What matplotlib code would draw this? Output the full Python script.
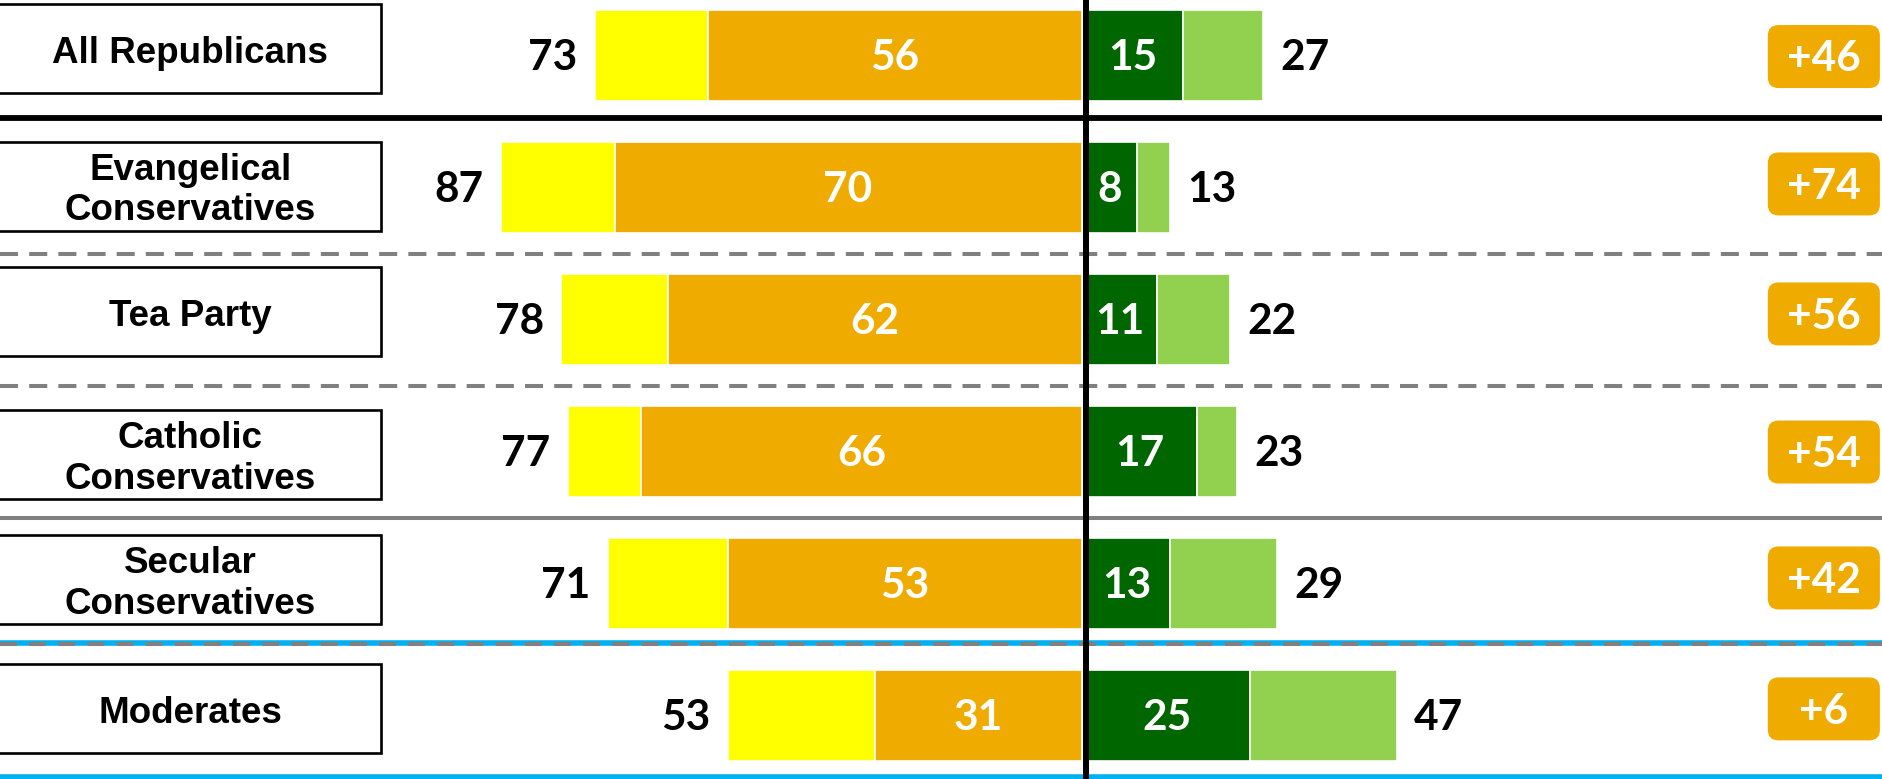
import matplotlib
matplotlib.use('Agg')
from matplotlib import pyplot as plt
from matplotlib.patches import Rectangle, FancyBboxPatch

groups = ['All Republicans', 'Evangelical\nConservatives', 'Tea Party',
          'Catholic\nConservatives', 'Secular\nConservatives', 'Moderates']
left_total = [73, 87, 78, 77, 71, 53]
left_strong = [56, 70, 62, 66, 53, 31]
right_strong = [15, 8, 11, 17, 13, 25]
right_total = [27, 13, 22, 23, 29, 47]
net_labels = ['+46', '+74', '+56', '+54', '+42', '+6']

YELLOW = '#FFFF00'
ORANGE = '#F0AB00'
DARK_GREEN = '#006600'
LIGHT_GREEN = '#92D050'
BLUE = '#00B0F0'
GRAY = '#808080'

PX = 6.67      # pixels per percentage point
ROW = 132.0    # pixels per row
R0 = 0.25      # where the right-hand bars start
BAR_H = 0.695
TXT_DY = 0.022  # nudge digits down so they sit visually centred

box_shift = [-0.052, -0.011, -0.057, 0.023, -0.03, -0.052]
badge_shift = [0.008, -0.027, -0.042, 0.004, -0.042, -0.05]

plt.rcParams['lines.scale_dashes'] = False
label_font = dict(family='Liberation Sans', weight='bold', size=26.5)
num_font = dict(family='Lato', weight='bold', size=30.5)


def draw_chart():
    fig = plt.figure(figsize=(18.83, 7.79), dpi=100)
    ax = fig.add_axes([0, 0, 1, 1])
    ax.set_xlim(-1081.5 / PX, 801.5 / PX)
    ax.set_ylim((779 - 55.5) / ROW, -55.5 / ROW)
    ax.axis('off')

    rows = list(range(len(groups)))
    weak_left = [t - s for t, s in zip(left_total, left_strong)]
    weak_right = [t - s for t, s in zip(right_total, right_strong)]
    neg_total = [-t for t in left_total]
    neg_strong = [-s for s in left_strong]
    right_mid = [R0 + s for s in right_strong]

    bar_kw = dict(height=BAR_H, edgecolor='white', linewidth=1.2, zorder=2)
    ax.barh(rows, weak_left, left=neg_total, color=YELLOW, **bar_kw)
    ax.barh(rows, left_strong, left=neg_strong, color=ORANGE, **bar_kw)
    ax.barh(rows, right_strong, left=R0, color=DARK_GREEN, **bar_kw)
    ax.barh(rows, weak_right, left=right_mid, color=LIGHT_GREEN, **bar_kw)

    for i in rows:
        y = i + TXT_DY
        ax.text(-left_total[i] - 2.6, y, str(left_total[i]), ha='right',
                va='center', color='black', **num_font)
        ax.text(-left_strong[i] / 2, y, str(left_strong[i]), ha='center',
                va='center', color='white', zorder=3, **num_font)
        ax.text(R0 + right_strong[i] / 2, y, str(right_strong[i]),
                ha='center', va='center', color='white', zorder=3,
                **num_font)
        ax.text(R0 + right_total[i] + 2.6, y, str(right_total[i]),
                ha='left', va='center', color='black', **num_font)

        # group name box
        bh = 89 / ROW
        yc = i + box_shift[i]
        ax.add_patch(Rectangle((-162.6, yc - bh / 2), 57.6, bh,
                               fill=False, edgecolor='black',
                               linewidth=1.9, zorder=3))
        ax.text(-133.6, yc + 0.035, groups[i], ha='center', va='center',
                linespacing=1.2, color='black', **label_font)

        # net badge
        gh = 63 / ROW
        gc = i + badge_shift[i]
        ax.add_patch(FancyBboxPatch((102.9, gc - gh / 2), 16.8, gh,
                                    boxstyle='round,pad=0,rounding_size=1.6',
                                    mutation_aspect=PX / ROW,
                                    facecolor=ORANGE, edgecolor='none',
                                    zorder=3))
        ax.text(111.3, gc + TXT_DY, net_labels[i], ha='center', va='center',
                color='white', zorder=4, **num_font)

    # separators
    ax.axhline(0.477, color='black', linewidth=4.2, zorder=1)
    ax.axhline(1.506, color=GRAY, linewidth=2.9, linestyle=(0, (13, 8)),
               zorder=1)
    ax.axhline(2.5, color=GRAY, linewidth=2.9, linestyle=(0, (13, 8)),
               zorder=1)
    ax.axhline(3.504, color=GRAY, linewidth=2.9, zorder=1)
    ax.axhline(4.451, color=BLUE, linewidth=4.0, zorder=1)
    ax.axhline(4.462, color=GRAY, linewidth=2.9, linestyle=(0, (12, 9)),
               zorder=1)
    ax.axhline(5.466, color=BLUE, linewidth=4.0, zorder=1)

    # centre line
    ax.axvline(0.675, color='black', linewidth=4.3, zorder=5)

    fig.savefig('out.png', dpi=100)


draw_chart()
